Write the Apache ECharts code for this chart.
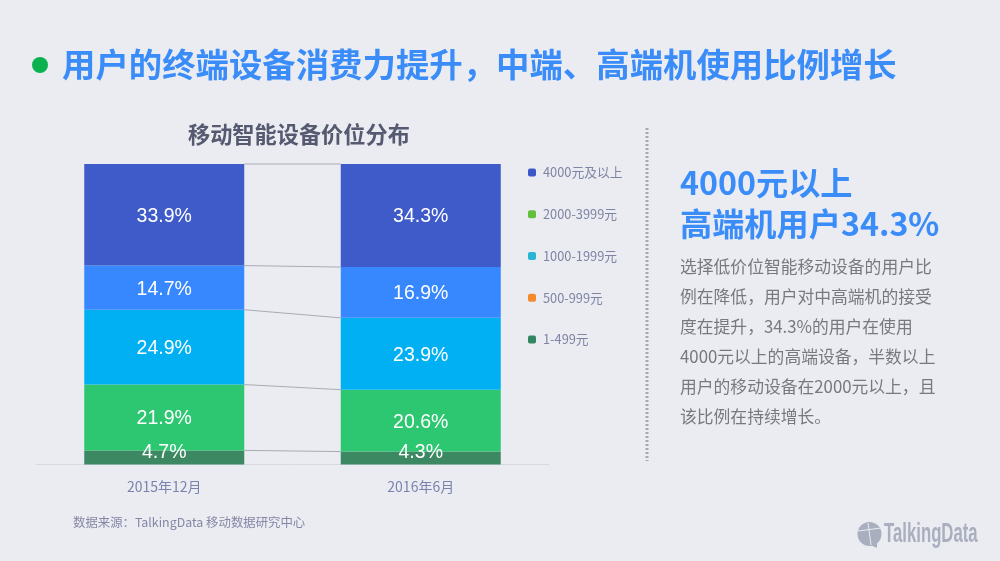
<!DOCTYPE html>
<html>
<head>
<meta charset="utf-8">
<script src="https://cdn.jsdelivr.net/npm/echarts@6/dist/echarts.min.js"></script>
<style>
html,body{margin:0;padding:0;background:#ebecf2;}
#main{width:1000px;height:561px;}
</style>
</head>
<body>
<div id="main"></div>
<script>
var categories = ['2015年12月', '2016年6月'];
var seriesNames = ['1-499元', '500-999元', '1000-1999元', '2000-3999元', '4000元及以上'];
var band1 = [4.7, 4.3];
var band2 = [21.9, 20.6];
var band3 = [24.9, 23.9];
var band4 = [14.7, 16.9];
var band5 = [33.9, 34.3];
var pageTitle = '用户的终端设备消费力提升，中端、高端机使用比例增长';
var chartTitle = '移动智能设备价位分布';
var headLines = ['4000元以上', '高端机用户34.3%'];
var bodyLines = [
    '选择低价位智能移动设备的用户比',
    '例在降低，用户对中高端机的接受',
    '度在提升，34.3%的用户在使用',
    '4000元以上的高端设备，半数以上',
    '用户的移动设备在2000元以上，且',
    '该比例在持续增长。'
];
var sourceText = '数据来源：TalkingData 移动数据研究中心';

var CJK = '"Noto Sans CJK SC", sans-serif';
var bands = [band1, band2, band3, band4, band5];
var barColors = ['#3c8863', '#2dc671', '#00b0f3', '#3788fe', '#3f5ac9'];
// the legend swatches in the source do not match the bars
var legendColors = ['#318560', '#f58a2c', '#2ab6d2', '#62bf3c', '#3c58c8'];
var barWidth = 160;

var myChart = echarts.init(document.getElementById('main'));

// top of each stack band, for the connector lines
var links = [];
var sum0 = 0, sum1 = 0;
bands.forEach(function (b) {
    sum0 += b[0];
    sum1 += b[1];
    links.push([Math.min(sum0, 100), Math.min(sum1, 100)]);
});

var series = bands.map(function (b, i) {
    return {
        name: seriesNames[i],
        type: 'bar',
        stack: 'total',
        barWidth: barWidth,
        data: b,
        itemStyle: {color: barColors[i]},
        label: {
            show: true,
            position: 'inside',
            offset: i === 0 ? [0, -5] : [0, 1.5],
            formatter: '{c}%',
            color: '#fff',
            fontSize: 19.5,
            fontFamily: '"Liberation Sans", Arial, sans-serif'
        }
    };
});

series.push({
    type: 'custom',
    silent: true,
    z: 3,
    data: links,
    encode: {x: null, y: [0, 1]},
    renderItem: function (params, api) {
        var a = api.coord([0, api.value(0)]);
        var b = api.coord([1, api.value(1)]);
        return {
            type: 'line',
            shape: {x1: a[0] + barWidth / 2, y1: a[1], x2: b[0] - barWidth / 2, y2: b[1]},
            style: {stroke: '#a9abb2', lineWidth: 1}
        };
    }
});

var option = {
    backgroundColor: '#ebecf2',
    animation: false,
    grid: {left: 36, right: 451, top: 164, bottom: 96.5},
    xAxis: {
        type: 'category',
        data: categories,
        axisTick: {show: false},
        axisLine: {lineStyle: {color: '#d8d9e0', width: 1}},
        axisLabel: {color: '#7a83ad', fontSize: 14, margin: 15, fontFamily: CJK}
    },
    yAxis: {type: 'value', min: 0, max: 100, show: false},
    legend: {
        orient: 'vertical',
        left: 523,
        top: 161,
        icon: 'roundRect',
        itemWidth: 8,
        itemHeight: 8,
        itemGap: 29,
        selectedMode: false,
        textStyle: {color: '#7f84a3', fontSize: 12.8, padding: [0, 0, 0, 2], fontFamily: CJK},
        data: seriesNames.map(function (n, i) {
            return {name: n, itemStyle: {color: legendColors[i]}};
        }).reverse()
    },
    series: series,
    graphic: [
        {type: 'circle', shape: {cx: 40, cy: 65, r: 8}, style: {fill: '#0bb04f'}},
        {type: 'text', left: 62, top: 48, style: {text: pageTitle, fill: '#3a8cf8', font: 'bold 33.4px ' + CJK}},
        {type: 'text', left: 188, top: 123, style: {text: chartTitle, fill: '#555a70', font: 'bold 22.2px ' + CJK}},
        {type: 'line', shape: {x1: 647, y1: 128, x2: 647, y2: 461}, style: {stroke: '#a8a9ae', lineWidth: 3, lineDash: [2, 2]}},
        {type: 'text', left: 680, top: 162, style: {text: headLines.join('\n'), fill: '#3a8cf8', font: 'bold 32.2px ' + CJK, lineHeight: 41}},
        {type: 'text', left: 680, top: 252, style: {text: bodyLines.join('\n'), fill: '#77797f', font: '16.8px ' + CJK, lineHeight: 30}},
        {type: 'text', left: 73, top: 516, style: {text: sourceText, fill: '#8587a5', font: '12.4px ' + CJK}},
        // logo
        {type: 'circle', shape: {cx: 869.5, cy: 534, r: 12}, style: {fill: '#a9afbe'}},
        {type: 'polygon', shape: {points: [[866, 543], [877, 543], [877, 548]]}, style: {fill: '#a9afbe'}},
        {type: 'line', shape: {x1: 858, y1: 531, x2: 881, y2: 528}, style: {stroke: '#ebecf2', lineWidth: 1}},
        {type: 'line', shape: {x1: 868, y1: 523, x2: 871, y2: 545}, style: {stroke: '#ebecf2', lineWidth: 1}},
        {type: 'text', x: 884, y: 535, scaleX: 0.62, style: {text: 'TalkingData', fill: '#a9afbe', font: 'bold 27px "Liberation Sans", sans-serif', textVerticalAlign: 'middle'}}
    ]
};

myChart.setOption(option);
</script>
</body>
</html>
